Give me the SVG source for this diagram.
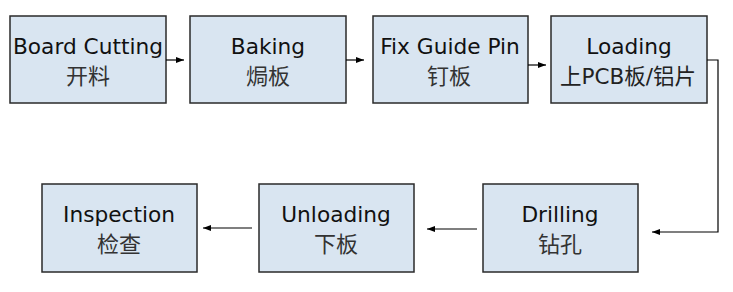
<svg xmlns="http://www.w3.org/2000/svg" width="733" height="292" viewBox="0 0 733 292">
<defs>
<marker id="ah" viewBox="0 0 8 8" refX="8" refY="4" markerWidth="8" markerHeight="8" markerUnits="userSpaceOnUse" orient="auto">
<path d="M0,1 L8,4 L0,7 Z" fill="#000"/>
</marker>
</defs>
<style>
.box{fill:#d9e5f1;stroke:#2a2a2a;stroke-width:1.5}
.t{font-family:"DejaVu Sans","Noto Sans CJK SC",sans-serif;font-size:21.7px;fill:#111;text-anchor:middle}
.c{font-family:"Noto Sans CJK SC",sans-serif;font-size:22px;fill:#333;text-anchor:middle}
.l2{font-family:"DejaVu Sans","Noto Sans CJK SC",sans-serif;font-size:21.5px;fill:#222;text-anchor:middle}
.ln{fill:none;stroke:#000;stroke-width:1.2}
</style>
<rect width="733" height="292" fill="#fff"/>
<g id="n1"><rect class="box" x="10" y="16" width="156" height="87"/><text class="t" x="88" y="54">Board Cutting</text><text class="c" x="88" y="84">开料</text></g>
<g id="n2"><rect class="box" x="190" y="16" width="156" height="87"/><text class="t" x="268" y="54">Baking</text><text class="c" x="268" y="84">焗板</text></g>
<g id="n3"><rect class="box" x="373" y="16" width="155" height="87"/><text class="t" x="450" y="54">Fix Guide Pin</text><text class="c" x="449" y="84">钉板</text></g>
<g id="n4"><rect class="box" x="551" y="16" width="156" height="87"/><text class="t" x="629" y="54">Loading</text><text class="l2" x="628" y="84">上PCB板/铝片</text></g>
<g id="n5"><rect class="box" x="483" y="184" width="155" height="88"/><text class="t" x="560" y="222">Drilling</text><text class="c" x="560" y="252">钻孔</text></g>
<g id="n6"><rect class="box" x="259" y="184" width="155" height="88"/><text class="t" x="336" y="222">Unloading</text><text class="c" x="336" y="252">下板</text></g>
<g id="n7"><rect class="box" x="42" y="184" width="155" height="88"/><text class="t" x="119" y="222">Inspection</text><text class="c" x="119" y="252">检查</text></g>
<g id="connectors">
<path class="ln" d="M166,60 H184" marker-end="url(#ah)"/>
<path class="ln" d="M346,60 H364" marker-end="url(#ah)"/>
<path class="ln" d="M528,65 H546" marker-end="url(#ah)"/>
<path class="ln" d="M707,60 H718 V232 H652" marker-end="url(#ah)"/>
<path class="ln" d="M477,229 H427" marker-end="url(#ah)"/>
<path class="ln" d="M252,228 H203" marker-end="url(#ah)"/>
</g>
</svg>
